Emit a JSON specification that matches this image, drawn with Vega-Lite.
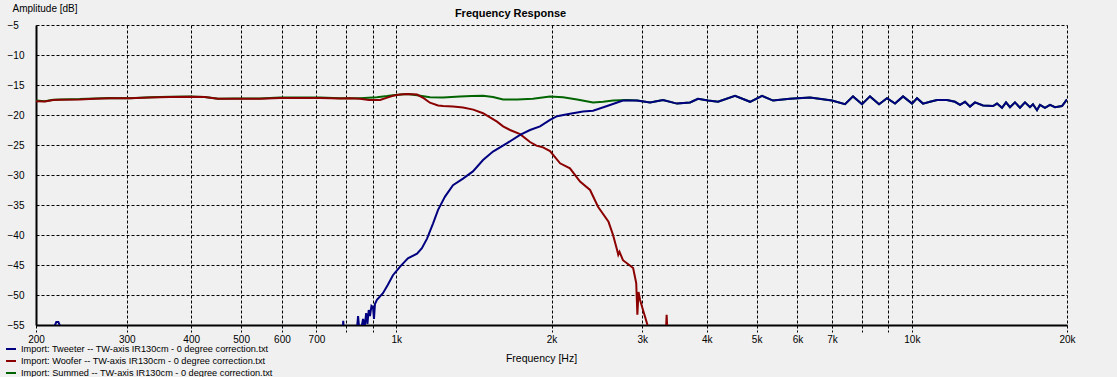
{
  "$schema": "https://vega.github.io/schema/vega-lite/v6.json",
  "width": 1031,
  "height": 300,
  "autosize": {"type": "none"},
  "padding": {"left": 36, "top": 25, "right": 50, "bottom": 52},
  "background": "#F0F0F0",
  "config": {"view": {"stroke": null}, "font": "Liberation Sans"},
  "title": {"text": "Frequency Response", "fontSize": 11, "fontWeight": "bold", "font": "Liberation Sans", "color": "black", "anchor": "middle", "frame": "group", "dx": -41, "dy": 34, "offset": 9, "baseline": "alphabetic"},
  "data": {"values": [
    {"s": "Woofer", "f": 200, "db": -17.7}, {"s": "Woofer", "f": 208, "db": -17.75}, {"s": "Woofer", "f": 216, "db": -17.5}, {"s": "Woofer", "f": 223, "db": -17.45},
    {"s": "Woofer", "f": 243, "db": -17.4}, {"s": "Woofer", "f": 260, "db": -17.3}, {"s": "Woofer", "f": 278, "db": -17.2}, {"s": "Woofer", "f": 304, "db": -17.2},
    {"s": "Woofer", "f": 333, "db": -17.1}, {"s": "Woofer", "f": 364, "db": -17.0}, {"s": "Woofer", "f": 398, "db": -16.95}, {"s": "Woofer", "f": 425, "db": -17.0},
    {"s": "Woofer", "f": 451, "db": -17.3}, {"s": "Woofer", "f": 486, "db": -17.3}, {"s": "Woofer", "f": 544, "db": -17.3}, {"s": "Woofer", "f": 595, "db": -17.15},
    {"s": "Woofer", "f": 650, "db": -17.15}, {"s": "Woofer", "f": 711, "db": -17.15}, {"s": "Woofer", "f": 778, "db": -17.25}, {"s": "Woofer", "f": 813, "db": -17.2},
    {"s": "Woofer", "f": 850, "db": -17.3}, {"s": "Woofer", "f": 885, "db": -17.5}, {"s": "Woofer", "f": 930, "db": -17.5}, {"s": "Woofer", "f": 960, "db": -17.1},
    {"s": "Woofer", "f": 985, "db": -16.8}, {"s": "Woofer", "f": 1016, "db": -16.6}, {"s": "Woofer", "f": 1049, "db": -16.5}, {"s": "Woofer", "f": 1097, "db": -16.6},
    {"s": "Woofer", "f": 1130, "db": -17.2}, {"s": "Woofer", "f": 1162, "db": -17.95}, {"s": "Woofer", "f": 1205, "db": -18.4}, {"s": "Woofer", "f": 1232, "db": -18.5},
    {"s": "Woofer", "f": 1288, "db": -18.6}, {"s": "Woofer", "f": 1347, "db": -18.75}, {"s": "Woofer", "f": 1410, "db": -19.1}, {"s": "Woofer", "f": 1473, "db": -19.7},
    {"s": "Woofer", "f": 1568, "db": -21.1}, {"s": "Woofer", "f": 1611, "db": -21.9}, {"s": "Woofer", "f": 1662, "db": -22.5}, {"s": "Woofer", "f": 1738, "db": -23.2},
    {"s": "Woofer", "f": 1817, "db": -24.5}, {"s": "Woofer", "f": 1870, "db": -25.1}, {"s": "Woofer", "f": 1926, "db": -25.4}, {"s": "Woofer", "f": 1987, "db": -26.0},
    {"s": "Woofer", "f": 2078, "db": -28.05}, {"s": "Woofer", "f": 2172, "db": -28.9}, {"s": "Woofer", "f": 2272, "db": -31.1}, {"s": "Woofer", "f": 2376, "db": -32.5},
    {"s": "Woofer", "f": 2462, "db": -35.3}, {"s": "Woofer", "f": 2580, "db": -37.8}, {"s": "Woofer", "f": 2633, "db": -40.0}, {"s": "Woofer", "f": 2681, "db": -42.5},
    {"s": "Woofer", "f": 2695, "db": -43.3}, {"s": "Woofer", "f": 2710, "db": -42.8}, {"s": "Woofer", "f": 2752, "db": -44.2}, {"s": "Woofer", "f": 2830, "db": -45.0},
    {"s": "Woofer", "f": 2880, "db": -45.5}, {"s": "Woofer", "f": 2920, "db": -48.0}, {"s": "Woofer", "f": 2935, "db": -53.3}, {"s": "Woofer", "f": 2950, "db": -49.5},
    {"s": "Woofer", "f": 2970, "db": -50.8}, {"s": "Woofer", "f": 3010, "db": -52.5}, {"s": "Woofer", "f": 3078, "db": -55.3}, {"s": "Woofer", "f": 3200, "db": -60},
    {"s": "Woofer", "f": 3330, "db": -57}, {"s": "Woofer", "f": 3345, "db": -53.3}, {"s": "Woofer", "f": 3360, "db": -57}, {"s": "Woofer", "f": 3450, "db": -60},

    {"s": "Summed", "f": 200, "db": -17.6}, {"s": "Summed", "f": 208, "db": -17.7}, {"s": "Summed", "f": 216, "db": -17.45}, {"s": "Summed", "f": 223, "db": -17.4},
    {"s": "Summed", "f": 243, "db": -17.35}, {"s": "Summed", "f": 260, "db": -17.25}, {"s": "Summed", "f": 278, "db": -17.15}, {"s": "Summed", "f": 304, "db": -17.2},
    {"s": "Summed", "f": 333, "db": -17.05}, {"s": "Summed", "f": 364, "db": -16.95}, {"s": "Summed", "f": 398, "db": -16.9}, {"s": "Summed", "f": 425, "db": -17.0},
    {"s": "Summed", "f": 451, "db": -17.3}, {"s": "Summed", "f": 486, "db": -17.25}, {"s": "Summed", "f": 544, "db": -17.25}, {"s": "Summed", "f": 595, "db": -17.1},
    {"s": "Summed", "f": 650, "db": -17.1}, {"s": "Summed", "f": 711, "db": -17.1}, {"s": "Summed", "f": 778, "db": -17.2}, {"s": "Summed", "f": 813, "db": -17.2},
    {"s": "Summed", "f": 850, "db": -17.2}, {"s": "Summed", "f": 917, "db": -17.05}, {"s": "Summed", "f": 960, "db": -16.85}, {"s": "Summed", "f": 985, "db": -16.7},
    {"s": "Summed", "f": 1049, "db": -16.5}, {"s": "Summed", "f": 1097, "db": -16.7}, {"s": "Summed", "f": 1162, "db": -17.05}, {"s": "Summed", "f": 1232, "db": -17.1},
    {"s": "Summed", "f": 1329, "db": -16.9}, {"s": "Summed", "f": 1400, "db": -16.85}, {"s": "Summed", "f": 1473, "db": -16.8}, {"s": "Summed", "f": 1540, "db": -17.0},
    {"s": "Summed", "f": 1611, "db": -17.4}, {"s": "Summed", "f": 1715, "db": -17.4}, {"s": "Summed", "f": 1841, "db": -17.3}, {"s": "Summed", "f": 1987, "db": -16.9},
    {"s": "Summed", "f": 2106, "db": -17.05}, {"s": "Summed", "f": 2242, "db": -17.4}, {"s": "Summed", "f": 2408, "db": -17.9}, {"s": "Summed", "f": 2520, "db": -17.8},
    {"s": "Summed", "f": 2633, "db": -17.6}, {"s": "Summed", "f": 2802, "db": -17.5}, {"s": "Summed", "f": 2930, "db": -17.6}, {"s": "Summed", "f": 3106, "db": -17.9},
    {"s": "Summed", "f": 3292, "db": -17.5}, {"s": "Summed", "f": 3504, "db": -18.1}, {"s": "Summed", "f": 3714, "db": -17.9}, {"s": "Summed", "f": 3848, "db": -17.3},
    {"s": "Summed", "f": 4024, "db": -17.6}, {"s": "Summed", "f": 4208, "db": -17.8}, {"s": "Summed", "f": 4540, "db": -16.8}, {"s": "Summed", "f": 4856, "db": -17.8},
    {"s": "Summed", "f": 5122, "db": -16.8}, {"s": "Summed", "f": 5380, "db": -17.6}, {"s": "Summed", "f": 5802, "db": -17.3}, {"s": "Summed", "f": 6346, "db": -17.1},
    {"s": "Summed", "f": 7000, "db": -17.6}, {"s": "Summed", "f": 7420, "db": -18.2}, {"s": "Summed", "f": 7690, "db": -16.9}, {"s": "Summed", "f": 8006, "db": -18.2},
    {"s": "Summed", "f": 8296, "db": -16.9}, {"s": "Summed", "f": 8638, "db": -18.2}, {"s": "Summed", "f": 8952, "db": -17.2}, {"s": "Summed", "f": 9278, "db": -18.1},
    {"s": "Summed", "f": 9616, "db": -16.9}, {"s": "Summed", "f": 10010, "db": -18.1}, {"s": "Summed", "f": 10234, "db": -17.2}, {"s": "Summed", "f": 10512, "db": -18.1},
    {"s": "Summed", "f": 10846, "db": -17.8}, {"s": "Summed", "f": 11192, "db": -17.5}, {"s": "Summed", "f": 11702, "db": -17.5}, {"s": "Summed", "f": 12128, "db": -17.8},
    {"s": "Summed", "f": 12402, "db": -18.3}, {"s": "Summed", "f": 12682, "db": -17.8}, {"s": "Summed", "f": 12968, "db": -18.6}, {"s": "Summed", "f": 13260, "db": -17.9},
    {"s": "Summed", "f": 13744, "db": -18.4}, {"s": "Summed", "f": 14372, "db": -18.5}, {"s": "Summed", "f": 14630, "db": -18.1}, {"s": "Summed", "f": 14960, "db": -18.8},
    {"s": "Summed", "f": 15230, "db": -17.9}, {"s": "Summed", "f": 15504, "db": -18.7}, {"s": "Summed", "f": 15854, "db": -17.9}, {"s": "Summed", "f": 16212, "db": -18.8},
    {"s": "Summed", "f": 16578, "db": -17.9}, {"s": "Summed", "f": 16952, "db": -18.7}, {"s": "Summed", "f": 17180, "db": -18.2}, {"s": "Summed", "f": 17490, "db": -19.2},
    {"s": "Summed", "f": 17726, "db": -18.3}, {"s": "Summed", "f": 18126, "db": -18.8}, {"s": "Summed", "f": 18536, "db": -18.3}, {"s": "Summed", "f": 18954, "db": -18.7},
    {"s": "Summed", "f": 19558, "db": -18.5}, {"s": "Summed", "f": 20000, "db": -17.4},

    {"s": "Tweeter", "f": 200, "db": -62}, {"s": "Tweeter", "f": 214, "db": -58}, {"s": "Tweeter", "f": 217, "db": -55.3}, {"s": "Tweeter", "f": 219, "db": -54.5},
    {"s": "Tweeter", "f": 221, "db": -54.5}, {"s": "Tweeter", "f": 223, "db": -55.3}, {"s": "Tweeter", "f": 226, "db": -58}, {"s": "Tweeter", "f": 240, "db": -62},
    {"s": "Tweeter", "f": 770, "db": -62}, {"s": "Tweeter", "f": 786, "db": -57}, {"s": "Tweeter", "f": 789, "db": -54.3}, {"s": "Tweeter", "f": 792, "db": -57},
    {"s": "Tweeter", "f": 820, "db": -60}, {"s": "Tweeter", "f": 838, "db": -56}, {"s": "Tweeter", "f": 843, "db": -53.5}, {"s": "Tweeter", "f": 848, "db": -56},
    {"s": "Tweeter", "f": 855, "db": -55.6}, {"s": "Tweeter", "f": 862, "db": -54}, {"s": "Tweeter", "f": 868, "db": -55.4}, {"s": "Tweeter", "f": 874, "db": -53},
    {"s": "Tweeter", "f": 879, "db": -54.8}, {"s": "Tweeter", "f": 884, "db": -52.5}, {"s": "Tweeter", "f": 889, "db": -53.5}, {"s": "Tweeter", "f": 895, "db": -51.8},
    {"s": "Tweeter", "f": 901, "db": -52}, {"s": "Tweeter", "f": 905, "db": -54}, {"s": "Tweeter", "f": 909, "db": -51.5}, {"s": "Tweeter", "f": 917, "db": -50.8},
    {"s": "Tweeter", "f": 942, "db": -49.7}, {"s": "Tweeter", "f": 963, "db": -48.3}, {"s": "Tweeter", "f": 985, "db": -46.7}, {"s": "Tweeter", "f": 1016, "db": -45.3},
    {"s": "Tweeter", "f": 1053, "db": -43.9}, {"s": "Tweeter", "f": 1097, "db": -43.1}, {"s": "Tweeter", "f": 1121, "db": -42.2}, {"s": "Tweeter", "f": 1147, "db": -40.6},
    {"s": "Tweeter", "f": 1178, "db": -38.1}, {"s": "Tweeter", "f": 1205, "db": -35.8}, {"s": "Tweeter", "f": 1243, "db": -33.6}, {"s": "Tweeter", "f": 1288, "db": -31.7},
    {"s": "Tweeter", "f": 1347, "db": -30.6}, {"s": "Tweeter", "f": 1408, "db": -29.4}, {"s": "Tweeter", "f": 1473, "db": -27.5}, {"s": "Tweeter", "f": 1540, "db": -26.1},
    {"s": "Tweeter", "f": 1640, "db": -24.7}, {"s": "Tweeter", "f": 1738, "db": -23.3}, {"s": "Tweeter", "f": 1817, "db": -22.5}, {"s": "Tweeter", "f": 1900, "db": -21.9},
    {"s": "Tweeter", "f": 1987, "db": -20.8}, {"s": "Tweeter", "f": 2050, "db": -20.2}, {"s": "Tweeter", "f": 2172, "db": -19.8}, {"s": "Tweeter", "f": 2302, "db": -19.4},
    {"s": "Tweeter", "f": 2408, "db": -19.3}, {"s": "Tweeter", "f": 2564, "db": -18.5}, {"s": "Tweeter", "f": 2752, "db": -17.6}, {"s": "Tweeter", "f": 2930, "db": -17.6},
    {"s": "Tweeter", "f": 3106, "db": -17.9}, {"s": "Tweeter", "f": 3292, "db": -17.5}, {"s": "Tweeter", "f": 3504, "db": -18.1}, {"s": "Tweeter", "f": 3714, "db": -17.9},
    {"s": "Tweeter", "f": 3848, "db": -17.3}, {"s": "Tweeter", "f": 4024, "db": -17.6}, {"s": "Tweeter", "f": 4208, "db": -17.8}, {"s": "Tweeter", "f": 4540, "db": -16.8},
    {"s": "Tweeter", "f": 4856, "db": -17.8}, {"s": "Tweeter", "f": 5122, "db": -16.8}, {"s": "Tweeter", "f": 5380, "db": -17.6}, {"s": "Tweeter", "f": 5802, "db": -17.3},
    {"s": "Tweeter", "f": 6346, "db": -17.1}, {"s": "Tweeter", "f": 7000, "db": -17.6}, {"s": "Tweeter", "f": 7420, "db": -18.2}, {"s": "Tweeter", "f": 7690, "db": -16.9},
    {"s": "Tweeter", "f": 8006, "db": -18.2}, {"s": "Tweeter", "f": 8296, "db": -16.9}, {"s": "Tweeter", "f": 8638, "db": -18.2}, {"s": "Tweeter", "f": 8952, "db": -17.2},
    {"s": "Tweeter", "f": 9278, "db": -18.1}, {"s": "Tweeter", "f": 9616, "db": -16.9}, {"s": "Tweeter", "f": 10010, "db": -18.1}, {"s": "Tweeter", "f": 10234, "db": -17.2},
    {"s": "Tweeter", "f": 10512, "db": -18.1}, {"s": "Tweeter", "f": 10846, "db": -17.8}, {"s": "Tweeter", "f": 11192, "db": -17.5}, {"s": "Tweeter", "f": 11702, "db": -17.5},
    {"s": "Tweeter", "f": 12128, "db": -17.8}, {"s": "Tweeter", "f": 12402, "db": -18.3}, {"s": "Tweeter", "f": 12682, "db": -17.8}, {"s": "Tweeter", "f": 12968, "db": -18.6},
    {"s": "Tweeter", "f": 13260, "db": -17.9}, {"s": "Tweeter", "f": 13744, "db": -18.4}, {"s": "Tweeter", "f": 14372, "db": -18.5}, {"s": "Tweeter", "f": 14630, "db": -18.1},
    {"s": "Tweeter", "f": 14960, "db": -18.8}, {"s": "Tweeter", "f": 15230, "db": -17.9}, {"s": "Tweeter", "f": 15504, "db": -18.7}, {"s": "Tweeter", "f": 15854, "db": -17.9},
    {"s": "Tweeter", "f": 16212, "db": -18.8}, {"s": "Tweeter", "f": 16578, "db": -17.9}, {"s": "Tweeter", "f": 16952, "db": -18.7}, {"s": "Tweeter", "f": 17180, "db": -18.2},
    {"s": "Tweeter", "f": 17490, "db": -19.2}, {"s": "Tweeter", "f": 17726, "db": -18.3}, {"s": "Tweeter", "f": 18126, "db": -18.8}, {"s": "Tweeter", "f": 18536, "db": -18.3},
    {"s": "Tweeter", "f": 18954, "db": -18.7}, {"s": "Tweeter", "f": 19558, "db": -18.5}, {"s": "Tweeter", "f": 20000, "db": -17.4}
  ]},
  "encoding": {
    "x": {
      "field": "f", "type": "quantitative",
      "scale": {"type": "log", "domain": [200, 20000], "nice": false},
      "axis": {
        "values": [200, 300, 400, 500, 600, 700, 800, 900, 1000, 2000, 3000, 4000, 5000, 6000, 7000, 8000, 9000, 10000, 20000],
        "labelExpr": "indexof([800, 900, 8000, 9000], datum.value) >= 0 ? '' : (datum.value >= 1000 ? (datum.value / 1000) + 'k' : '' + datum.value)",
        "grid": true, "gridColor": "black", "gridDash": [3, 2], "gridOpacity": 1, "gridWidth": 1,
        "ticks": true, "tickSize": 7, "tickColor": "black", "tickDash": [3, 2], "tickWidth": 1,
        "domainColor": "black", "domainWidth": 2,
        "labelFont": "Liberation Sans", "labelFontSize": 10, "labelColor": "black", "labelPadding": 2,
        "labelOverlap": false, "labelFlush": false, "labelBaseline": "top",
        "title": "Frequency [Hz]", "titleFont": "Liberation Sans", "titleFontSize": 10.5, "titleFontWeight": "normal", "titleColor": "black",
        "titleX": 505, "titleY": 36, "titleAlign": "center", "titleBaseline": "alphabetic"
      }
    },
    "y": {
      "field": "db", "type": "quantitative",
      "scale": {"domain": [-55, -5], "nice": false, "zero": false},
      "axis": {
        "values": [-5, -10, -15, -20, -25, -30, -35, -40, -45, -50, -55],
        "grid": true, "gridColor": "black", "gridDash": [3, 2], "gridOpacity": 1, "gridWidth": 1,
        "ticks": false, "domainColor": "black", "domainWidth": 2,
        "labelAlign": "left", "labelPadding": 29, "labelBaseline": "middle",
        "labelFont": "Liberation Sans", "labelFontSize": 10, "labelColor": "black", "labelFlush": false, "labelOverlap": false,
        "title": "Amplitude [dB]", "titleAngle": 0, "titleX": -24, "titleY": -14, "titleAlign": "left", "titleBaseline": "alphabetic",
        "titleFont": "Liberation Sans", "titleFontSize": 10, "titleFontWeight": "normal", "titleColor": "black"
      }
    },
    "color": {
      "field": "s", "type": "nominal",
      "scale": {"domain": ["Tweeter", "Woofer", "Summed"], "range": ["#000080", "#8B0000", "#006400"]},
      "legend": {
        "orient": "none", "legendX": -31, "legendY": 318, "title": null, "padding": 0,
        "symbolType": "stroke", "symbolStrokeWidth": 2, "symbolSize": 100,
        "labelFont": "Liberation Sans", "labelFontSize": 9.2, "labelColor": "black", "labelOffset": 4, "labelLimit": 400,
        "rowPadding": -0.5,
        "labelExpr": "'Import: ' + datum.label + ' -- TW-axis IR130cm - 0 degree correction.txt'"
      }
    }
  },
  "layer": [
    {"transform": [{"filter": "datum.s == 'Summed'"}], "mark": {"type": "line", "strokeWidth": 2, "clip": true}},
    {"transform": [{"filter": "datum.s == 'Woofer'"}], "mark": {"type": "line", "strokeWidth": 2, "clip": true}},
    {"transform": [{"filter": "datum.s == 'Tweeter'"}], "mark": {"type": "line", "strokeWidth": 2, "clip": true}}
  ]
}
